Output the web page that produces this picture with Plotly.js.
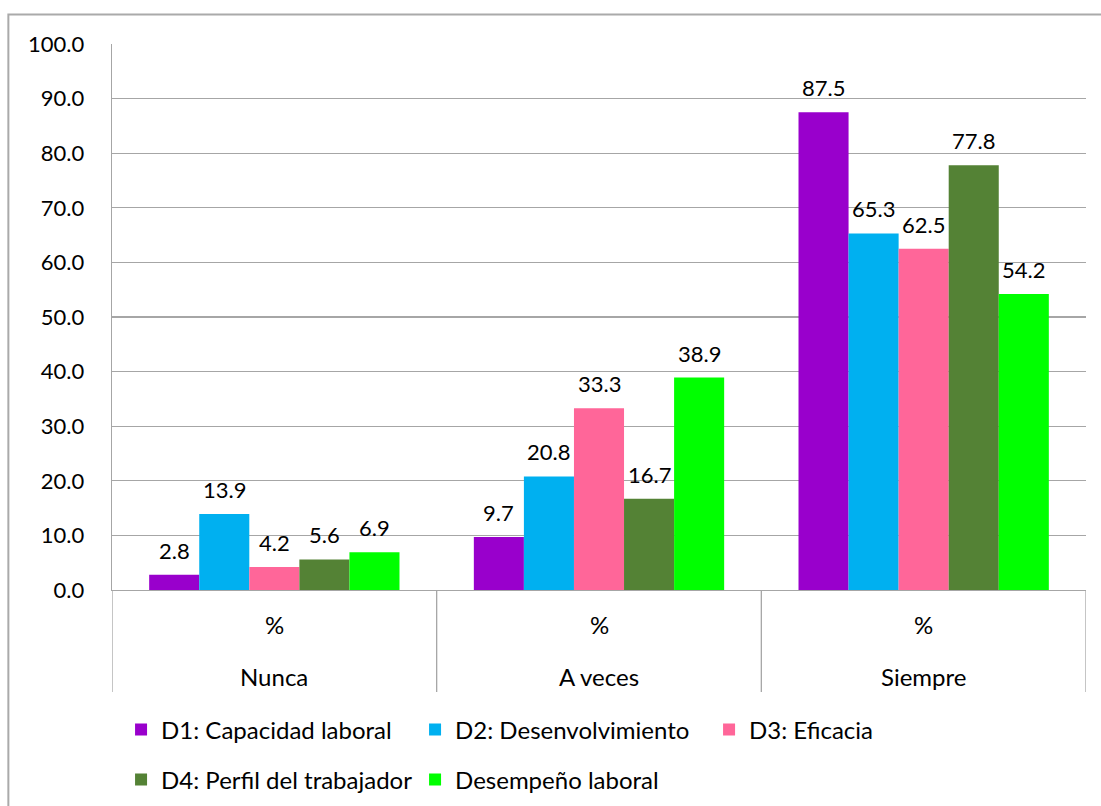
<!DOCTYPE html>
<html>
<head>
<meta charset="utf-8">
<script src="https://cdn.plot.ly/plotly-3.0.1.min.js"></script>
<style>html,body{margin:0;padding:0;background:#fff;}#chart{width:1101px;height:806px;}</style>
</head>
<body>
<div id="chart"></div>
<script>
const categories = ["Nunca", "A veces", "Siempre"];
const subLabels = ["%", "%", "%"];
const seriesNames = ["D1: Capacidad laboral", "D2: Desenvolvimiento", "D3: Eficacia", "D4: Perfil del trabajador", "Desempeño laboral"];
const d1 = [2.8, 9.7, 87.5];
const d2 = [13.9, 20.8, 65.3];
const d3 = [4.2, 33.3, 62.5];
const d4 = [5.6, 16.7, 77.8];
const d5 = [6.9, 38.9, 54.2];
const seriesValues = [d1, d2, d3, d4, d5];
const colors = ["#9900CC", "#00B0F0", "#FF6699", "#548235", "#00FF00"];
const legendOf = ["legend", "legend", "legend", "legend2", "legend2"];

const FONT = "Lato, 'Noto Sans', sans-serif";
const FS = 22;      // numbers
const FS_TXT = 24;  // words

const BARGAP = 0.229;
const plotW = 1101 - 112 - 15;
const catW = plotW / categories.length;
const barW = catW * (1 - BARGAP) / seriesValues.length;

const traces = seriesValues.map((vals, i) => ({
  type: "bar",
  name: seriesNames[i],
  x: categories,
  y: vals,
  marker: {color: colors[i]},
  legend: legendOf[i],
  hoverinfo: "skip"
}));

const annotations = [];
seriesValues.forEach((vals, i) => {
  vals.forEach((v, j) => {
    annotations.push({x: categories[j], xref: "x", y: v, yref: "y", text: v.toFixed(1), showarrow: false,
      xshift: (i - (seriesValues.length - 1) / 2) * barW, yshift: 9,
      xanchor: "center", yanchor: "bottom",
      font: {family: FONT, size: FS, color: "#000"}});
  });
});
categories.forEach((c, i) => {
  annotations.push({x: c, xref: "x", y: -0.0641, yref: "paper", text: subLabels[i], showarrow: false,
    font: {family: FONT, size: FS_TXT, color: "#000"}, xanchor: "center", yanchor: "middle"});
  annotations.push({x: c, xref: "x", y: -0.1593, yref: "paper", text: c, showarrow: false,
    font: {family: FONT, size: FS_TXT, color: "#000"}, xanchor: "center", yanchor: "middle"});
});

const shapes = [];
[-0.5, 0.5, 1.5, 2.5].forEach(xv => {
  shapes.push({type: "line", xref: "x", yref: "paper", x0: xv, x1: xv, y0: 0, y1: -0.1868,
    line: {color: "#a6a6a6", width: 1.3}});
});
shapes.push({type: "rect", xref: "paper", yref: "paper", x0: -0.1064, x1: 1.1, y0: -0.5, y1: 1.054,
  line: {color: "#aaaaaa", width: 2}, layer: "below"});

const layout = {
  width: 1101, height: 806,
  margin: {l: 112, r: 15, t: 44, b: 216, autoexpand: false},
  paper_bgcolor: "#fff", plot_bgcolor: "#fff",
  font: {family: FONT, size: FS, color: "#000"},
  barmode: "group",
  bargap: BARGAP,
  bargroupgap: 0,
  showlegend: true,
  xaxis: {
    type: "category",
    showticklabels: false,
    ticks: "",
    showgrid: false,
    showline: true, linecolor: "#a6a6a6", linewidth: 1.3,
    range: [-0.5, 2.5],
    fixedrange: true
  },
  yaxis: {
    range: [0, 100],
    dtick: 10,
    tick0: 0,
    tickformat: ".1f",
    showgrid: true, gridcolor: "#a6a6a6", gridwidth: 1.3,
    showline: true, linecolor: "#a6a6a6", linewidth: 1.3,
    zeroline: false,
    ticks: "",
    ticklabelstandoff: 22,
    tickfont: {family: FONT, size: FS, color: "#000"},
    fixedrange: true
  },
  legend: {
    orientation: "h", x: 0.0093, xanchor: "left", y: -0.2564, yanchor: "middle",
    entrywidth: 249, entrywidthmode: "pixels", traceorder: "normal",
    font: {family: FONT, size: FS_TXT, color: "#000"}, bgcolor: "rgba(0,0,0,0)"
  },
  legend2: {
    orientation: "h", x: 0.0093, xanchor: "left", y: -0.348, yanchor: "middle",
    entrywidth: 249, entrywidthmode: "pixels", traceorder: "normal",
    font: {family: FONT, size: FS_TXT, color: "#000"}, bgcolor: "rgba(0,0,0,0)"
  },
  annotations: annotations,
  shapes: shapes
};

Plotly.newPlot("chart", traces, layout, {displayModeBar: false, staticPlot: true});
</script>
</body>
</html>
